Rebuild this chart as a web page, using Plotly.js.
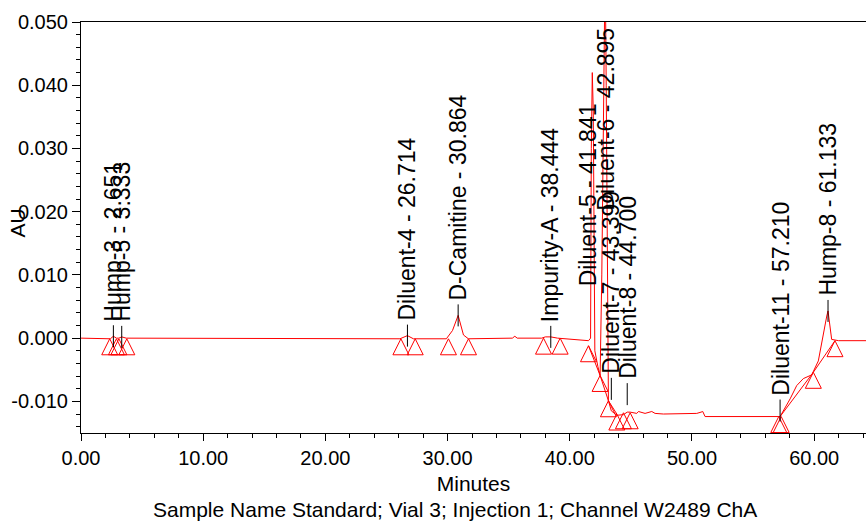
<!DOCTYPE html>
<html>
<head>
<meta charset="utf-8">
<script src="https://cdn.plot.ly/plotly-3.0.1.min.js"></script>
<style>
  html, body { margin: 0; padding: 0; background: #ffffff; }
  #chart { width: 866px; height: 521px; }
</style>
</head>
<body>
<div id="chart"></div>
<script>
// ---- Chromatogram signal (minutes, AU) ----
var signalTime = [
  0.00, 2.00, 2.40, 2.651, 2.90, 3.10, 3.333, 3.70,
  26.10, 26.714, 27.20,
  29.90, 30.40, 30.864, 31.30, 31.70,
  35.30, 35.50, 35.70,
  37.70, 38.00, 38.444, 39.00,
  41.53, 41.70, 41.76, 41.841, 41.92, 41.98, 42.05, 42.30, 42.48,
  42.62, 42.80, 42.895, 42.98, 43.08, 43.16, 43.399, 43.85, 44.39, 44.70, 44.94,
  45.48, 45.62, 46.16, 46.71, 46.98, 47.66, 48.76, 49.03, 49.30, 50.39, 50.74, 50.88, 51.07,
  57.07, 57.21, 58.03, 58.57, 59.11, 59.80, 60.34, 60.75, 61.03, 61.133, 61.43, 62.00, 64.24
];
var signalAU = [
  0.0000, 0.0000, -0.0001, 0.0003, 0.0000, 0.0000, 0.0002, 0.0000,
  -0.0001, 0.0004, -0.0001,
  -0.0001, 0.0012, 0.0036, 0.0005, -0.0001,
  0.0000, 0.0003, 0.0000,
  0.0000, 0.0002, 0.0002, 0.0000,
  -0.0004, 0.0000, 0.0300, 0.0420, 0.0360, 0.0100, -0.0020, -0.0045, -0.0059,
  0.0100, 0.0500, 0.0600, 0.0400, 0.0000, -0.0099, -0.0115, -0.0122, -0.0121, -0.0117, -0.0117,
  -0.0119, -0.0116, -0.0119, -0.0116, -0.0119, -0.0120, -0.0120, -0.0119, -0.0120, -0.0119, -0.0117, -0.0116, -0.0124,
  -0.0124, -0.0124, -0.0096, -0.0075, -0.0064, -0.0058, -0.0036, 0.0009, 0.0035, 0.0043, -0.0002, -0.0004, -0.0004
];

// ---- Integration baselines (drop lines between peak start/end marks) ----
var baseTime = [41.53, 42.48, 43.16, 43.85, null, 57.21, 59.93, 61.70];
var baseAU   = [-0.0012, -0.0059, -0.0099, -0.0120, null, -0.0124, -0.0054, -0.0004];

// ---- Peak start / end marks ----
var markTime = [2.35, 2.90, 3.10, 3.75, 26.18, 27.35, 30.07, 31.71, 37.85, 39.21,
                41.53, 42.48, 43.16, 43.85, 44.39, 44.94, 57.10, 57.30, 59.93, 61.70];
var markAU   = [-0.0001, -0.0001, -0.0001, -0.0001, -0.0001, -0.0001, -0.0001, -0.0001, 0.0000, 0.0000,
                -0.0012, -0.0059, -0.0099, -0.0120, -0.0118, -0.0118, -0.0124, -0.0124, -0.0054, -0.0004];

// ---- Peak labels ----
var peakNames  = ['Hump-3', 'Hump-5', 'Diluent-4', 'D-Camitine', 'Impurity-A', 'Diluent-5',
                  'Diluent-6', 'Diluent-7', 'Diluent-8', 'Diluent-11', 'Hump-8'];
var peakRT     = [2.651, 3.333, 26.714, 30.864, 38.444, 41.841, 42.895, 43.399, 44.700, 57.210, 61.133];
var peakApexAU = [0.0003, 0.0002, 0.0004, 0.0036, 0.0002, 0.0420, 0.0600, -0.0115, -0.0117, -0.0124, 0.0043];

// ---- Axis ticks ----
var yTickVals   = [-0.010, 0.000, 0.010, 0.020, 0.030, 0.040, 0.050];
var yTickLabels = ['-0.010', '0.000', '0.010', '0.020', '0.030', '0.040', '0.050'];
var xTickVals   = [0, 10, 20, 30, 40, 50, 60];
var xTickLabels = ['0.00', '10.00', '20.00', '30.00', '40.00', '50.00', '60.00'];

// ---- style (label placement tweaks, px) ----
var FONT = 'Arial, "Liberation Sans", sans-serif';
var labelLift = {'Diluent-7': 22, 'Diluent-8': 18, 'Diluent-11': 6};
var HALF = 11;   // half length of the label leader line, px
var GAP = 3;     // gap between leader line and label, px

var traces = [
  { x: signalTime, y: signalAU, type: 'scatter', mode: 'lines',
    line: { color: '#ff0000', width: 1 }, hoverinfo: 'skip', showlegend: false },
  { x: baseTime, y: baseAU, type: 'scatter', mode: 'lines',
    line: { color: '#ff0000', width: 1 }, hoverinfo: 'skip', showlegend: false, connectgaps: false },
  { x: markTime, y: markAU, type: 'scatter', mode: 'markers',
    marker: { symbol: 'arrow-up-open', size: 16, color: '#ff0000', line: { color: '#ff0000', width: 1 } },
    cliponaxis: false, hoverinfo: 'skip', showlegend: false }
];

var annotations = [];
var shapes = [];
for (var i = 0; i < peakNames.length; i++) {
  var name = peakNames[i];
  var txt = name + ' - ' + peakRT[i].toFixed(3);
  var base = { xref: 'x', x: peakRT[i], text: txt, textangle: -90, showarrow: false,
               xanchor: 'center', font: { family: FONT, size: 23, color: '#000000' }, borderpad: 0 };
  if (name === 'Diluent-5') {
    annotations.push(Object.assign(base, { yref: 'y', y: peakApexAU[i],
      yanchor: 'top', yshift: -30, xshift: -4 }));
  } else if (name === 'Diluent-6') {
    annotations.push(Object.assign(base, { yref: 'paper', y: 1, yanchor: 'top', yshift: -5 }));
  } else {
    var lift = labelLift[name] || 0;
    annotations.push(Object.assign(base, { yref: 'y', y: peakApexAU[i],
      yanchor: 'bottom', yshift: lift + HALF + GAP }));
    shapes.push({ type: 'line', xref: 'x', yref: 'y', x0: peakRT[i], x1: peakRT[i],
      ysizemode: 'pixel', yanchor: peakApexAU[i], y0: lift - HALF, y1: lift + HALF,
      line: { color: '#000000', width: 1 } });
  }
}
annotations.push({ xref: 'paper', yref: 'paper', x: 0.476, y: 0, yshift: -76,
  xanchor: 'center', yanchor: 'middle', showarrow: false,
  text: 'Sample Name Standard; Vial 3; Injection 1; Channel W2489 ChA',
  font: { family: FONT, size: 21, color: '#000000' } });
annotations.push({ xref: 'paper', yref: 'paper', x: 0, xshift: -64, y: 0.5, yshift: 4,
  xanchor: 'center', yanchor: 'middle', showarrow: false, textangle: -90,
  text: 'AU', font: { family: FONT, size: 21, color: '#000000' } });

var layout = {
  width: 866, height: 521,
  margin: { l: 81, r: 0, t: 22, b: 88 },
  paper_bgcolor: '#ffffff', plot_bgcolor: '#ffffff',
  font: { family: FONT, color: '#000000' },
  showlegend: false,
  xaxis: {
    range: [0, 64.24], tickmode: 'array', tickvals: xTickVals, ticktext: xTickLabels,
    ticks: 'outside', ticklen: 7, tickcolor: '#000000', tickwidth: 1,
    minor: { tickmode: 'linear', tick0: 0, dtick: 2, ticks: 'outside', ticklen: 4, tickcolor: '#000000' },
    showline: true, linecolor: '#000000', linewidth: 1, mirror: true,
    showgrid: false, zeroline: false, fixedrange: true,
    tickfont: { family: FONT, size: 20, color: '#000000' },
    title: { text: 'Minutes', font: { family: FONT, size: 21, color: '#000000' }, standoff: 8 },
    automargin: false
  },
  yaxis: {
    range: [-0.015, 0.050], tickmode: 'array', tickvals: yTickVals, ticktext: yTickLabels,
    ticks: 'outside', ticklen: 8, tickcolor: '#000000', tickwidth: 1,
    minor: { tickmode: 'linear', tick0: 0, dtick: 0.002, ticks: 'outside', ticklen: 4, tickcolor: '#000000' },
    showline: true, linecolor: '#000000', linewidth: 1,
    showgrid: false, zeroline: false, fixedrange: true,
    tickfont: { family: FONT, size: 20, color: '#000000' },
    automargin: false
  },
  shapes: shapes,
  annotations: annotations
};

Plotly.newPlot('chart', traces, layout, { displayModeBar: false, staticPlot: true });
</script>
</body>
</html>
